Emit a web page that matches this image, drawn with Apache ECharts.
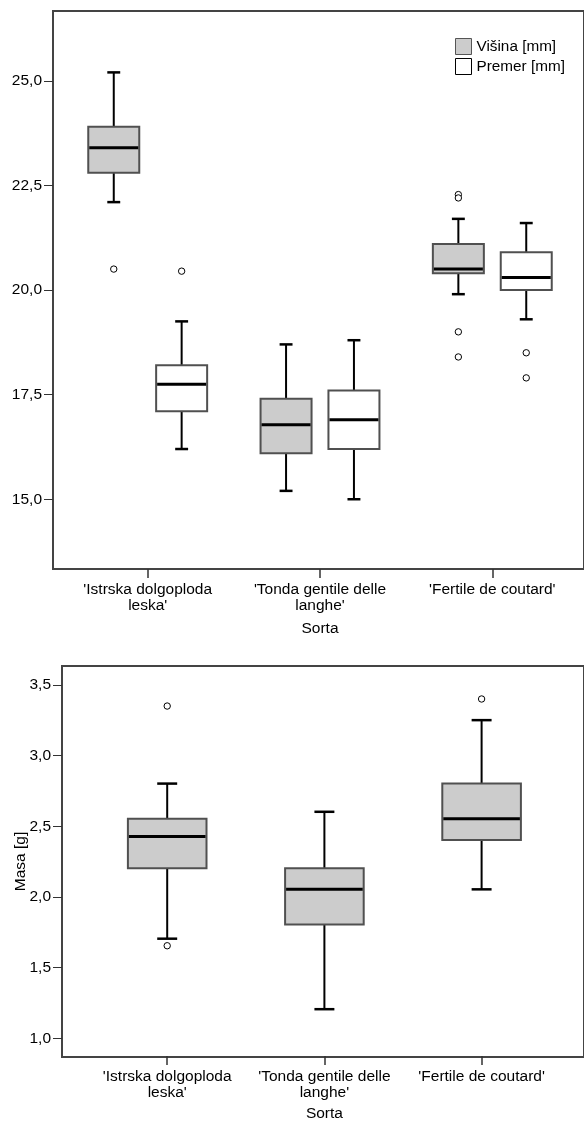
<!DOCTYPE html>
<html>
<head>
<meta charset="utf-8">
<script src="https://cdn.jsdelivr.net/npm/echarts@6/dist/echarts.min.js"></script>
<style>
html,body{margin:0;padding:0;background:#fff;}
#c{width:584px;height:1123px;}
</style>
</head>
<body>
<div id="c"></div>
<script>
// ---- data ----
const categories = ["'Istrska dolgoploda\nleska'", "'Tonda gentile delle\nlanghe'", "'Fertile de coutard'"];
// [min, Q1, median, Q3, max]
const visina = [[22.10, 22.80, 23.40, 23.90, 25.20], [15.20, 16.10, 16.78, 17.40, 18.70], [19.90, 20.40, 20.50, 21.10, 21.70]];
const visinaOutliers = [[0, 20.50], [2, 22.28], [2, 22.20], [2, 19.00], [2, 18.40]];
const premer = [[16.20, 17.10, 17.75, 18.20, 19.25], [15.00, 16.20, 16.90, 17.60, 18.80], [19.30, 20.00, 20.30, 20.90, 21.60]];
const premerOutliers = [[0, 20.45], [2, 18.50], [2, 17.90]];
const masa = [[1.70, 2.20, 2.425, 2.55, 2.80], [1.20, 1.80, 2.05, 2.20, 2.60], [2.05, 2.40, 2.55, 2.80, 3.25]];
const masaOutliers = [[0, 3.35], [0, 1.65], [2, 3.40]];
const topTicks = [15, 17.5, 20, 22.5, 25];
const bottomTicks = [1, 1.5, 2, 2.5, 3, 3.5];
const seriesNames = ['Višina [mm]', 'Premer [mm]'];
const axisName = 'Sorta';
const masaName = 'Masa [g]';

// ---- styles ----
const FONT = "'Liberation Sans', Arial, sans-serif";
const FS = 15.5;
const GRAY = '#cccccc';
const FRAME = '#444444';

function boxData(arr) { return arr.map((d, i) => [i].concat(d)); }

function boxRender(offsetFrac, boxFrac, capFrac, fill) {
  return function (params, api) {
    const idx = api.value(0);
    const band = api.size([1, 0])[0];
    const cx = api.coord([idx, api.value(3)])[0] + offsetFrac * band;
    const y = v => api.coord([idx, v])[1];
    const yMin = y(api.value(1)), yQ1 = y(api.value(2)), yMed = y(api.value(3)),
          yQ3 = y(api.value(4)), yMax = y(api.value(5));
    const hw = boxFrac * band / 2, cw = capFrac * band / 2;
    const wl = { stroke: '#000', lineWidth: 2 };
    const cap = { stroke: '#000', lineWidth: 2.5 };
    return {
      type: 'group',
      children: [
        { type: 'line', shape: { x1: cx, y1: yMax, x2: cx, y2: yQ3 }, style: wl },
        { type: 'line', shape: { x1: cx, y1: yQ1, x2: cx, y2: yMin }, style: wl },
        { type: 'line', shape: { x1: cx - cw, y1: yMax, x2: cx + cw, y2: yMax }, style: cap },
        { type: 'line', shape: { x1: cx - cw, y1: yMin, x2: cx + cw, y2: yMin }, style: cap },
        { type: 'rect', shape: { x: cx - hw, y: yQ3, width: 2 * hw, height: yQ1 - yQ3 },
          style: { fill: fill, stroke: '#505050', lineWidth: 2 } },
        { type: 'line', shape: { x1: cx - hw + 1, y1: yMed, x2: cx + hw - 1, y2: yMed },
          style: { stroke: '#000', lineWidth: 3 } }
      ]
    };
  };
}
function outlierRender(offsetFrac) {
  return function (params, api) {
    const idx = api.value(0);
    const band = api.size([1, 0])[0];
    const p = api.coord([idx, api.value(1)]);
    return { type: 'circle', shape: { cx: p[0] + offsetFrac * band, cy: p[1], r: 3.2 },
      style: { fill: '#fff', stroke: '#000', lineWidth: 1 } };
  };
}
const fmt = v => v.toFixed(1).replace('.', ',');

const frameY = (gi, min, max, ticks, extra) => Object.assign({
  gridIndex: gi, type: 'value', min: min, max: max,
  splitLine: { show: false }, axisLine: { show: false },
  axisTick: { show: true, length: 9, customValues: ticks, lineStyle: { color: '#333', width: 1 } },
  axisLabel: { customValues: ticks, formatter: fmt, color: '#000', fontSize: FS, fontFamily: FONT, margin: 11 }
}, extra || {});
const hiddenY = (gi, min, max) => ({ gridIndex: gi, type: 'value', min: min, max: max, show: false });
const hiddenX = gi => ({ gridIndex: gi, type: 'value', min: 0, max: 1, show: false });
const catX = (gi, gap) => ({
  gridIndex: gi, type: 'category', data: categories,
  axisLine: { show: false },
  axisTick: { show: true, alignWithLabel: true, length: 9, lineStyle: { color: '#333', width: 1.5 } },
  axisLabel: { color: '#000', fontSize: FS, fontFamily: FONT, margin: 13, lineHeight: 16, interval: 0 },
  name: axisName, nameLocation: 'middle', nameGap: gap,
  nameTextStyle: { color: '#000', fontSize: FS, fontFamily: FONT, lineHeight: 17 }
});

const TMIN = 13.333, TMAX = 26.667, BMIN = 0.868, BMAX = 3.634;

const option = {
  animation: false,
  backgroundColor: '#fff',
  legend: {
    left: 455, top: 38, orient: 'vertical', padding: 0, itemGap: 3,
    itemWidth: 16, itemHeight: 16, icon: 'rect', selectedMode: false,
    textStyle: { color: '#000', fontSize: 15.3, fontFamily: FONT },
    data: [
      { name: seriesNames[0], itemStyle: { color: GRAY, borderColor: '#555', borderWidth: 1 } },
      { name: seriesNames[1], itemStyle: { color: '#fff', borderColor: '#000', borderWidth: 1 } }
    ]
  },
  grid: [
    { left: 53, top: 11, width: 560, height: 558, show: true, borderColor: FRAME, borderWidth: 2, backgroundColor: 'transparent' },
    { left: 61.55, top: 11, width: 516.9, height: 558 },
    { left: 62, top: 666, width: 560, height: 391, show: true, borderColor: FRAME, borderWidth: 2, backgroundColor: 'transparent' },
    { left: 88.6, top: 666, width: 471.6, height: 391 }
  ],
  xAxis: [hiddenX(0), catX(1, 51), hiddenX(2), catX(3, 49)],
  yAxis: [
    frameY(0, TMIN, TMAX, topTicks),
    hiddenY(1, TMIN, TMAX),
    frameY(2, BMIN, BMAX, bottomTicks, {
      name: masaName, nameLocation: 'middle', nameGap: 33, nameRotate: 90, nameMoveOverlap: false,
      nameTextStyle: { color: '#000', fontSize: FS, fontFamily: FONT }
    }),
    hiddenY(3, BMIN, BMAX)
  ],
  series: [
    { name: seriesNames[0], type: 'custom', xAxisIndex: 1, yAxisIndex: 1, itemStyle: { color: GRAY },
      data: boxData(visina), encode: { x: 0, y: [1, 2, 3, 4, 5] },
      renderItem: boxRender(-0.197, 0.296, 0.075, GRAY) },
    { name: seriesNames[1], type: 'custom', xAxisIndex: 1, yAxisIndex: 1, itemStyle: { color: '#fff' },
      data: boxData(premer), encode: { x: 0, y: [1, 2, 3, 4, 5] },
      renderItem: boxRender(0.197, 0.296, 0.075, '#fff') },
    { name: seriesNames[0], type: 'custom', xAxisIndex: 1, yAxisIndex: 1,
      data: visinaOutliers, encode: { x: 0, y: 1 }, renderItem: outlierRender(-0.197) },
    { name: seriesNames[1], type: 'custom', xAxisIndex: 1, yAxisIndex: 1,
      data: premerOutliers, encode: { x: 0, y: 1 }, renderItem: outlierRender(0.197) },
    { name: masaName, type: 'custom', xAxisIndex: 3, yAxisIndex: 3,
      data: boxData(masa), encode: { x: 0, y: [1, 2, 3, 4, 5] },
      renderItem: boxRender(0, 0.5, 0.127, GRAY) },
    { name: masaName, type: 'custom', xAxisIndex: 3, yAxisIndex: 3,
      data: masaOutliers, encode: { x: 0, y: 1 }, renderItem: outlierRender(0) }
  ]
};
const chart = echarts.init(document.getElementById('c'), null, { renderer: 'canvas' });
chart.setOption(option);
</script>
</body>
</html>
